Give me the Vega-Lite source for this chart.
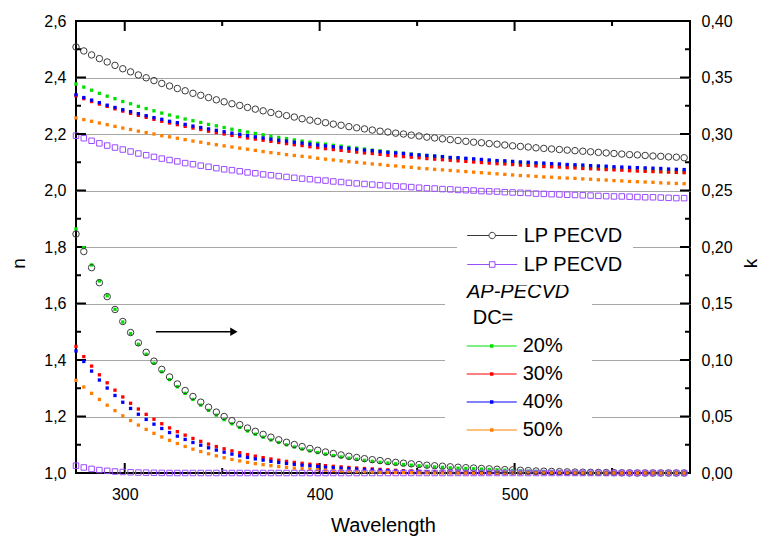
{
  "$schema": "https://vega.github.io/schema/vega-lite/v6.json",
  "width": 614,
  "height": 452,
  "autosize": {"type": "none"},
  "padding": {"left": 76, "top": 21, "right": 74, "bottom": 65},
  "background": "white",
  "config": {
    "view": {"stroke": "black", "strokeWidth": 2},
    "font": "Liberation Sans",
    "axis": {"domain": false, "grid": false, "ticks": false, "labelFont": "Liberation Sans", "labelFontSize": 16, "labelColor": "black", "titleFont": "Liberation Sans", "titleFontWeight": "normal", "titleColor": "black"},
    "legend": {"labelFont": "Liberation Sans", "titleFont": "Liberation Sans", "labelColor": "black", "titleColor": "black"}
  },
  "datasets": {
    "n": [
      {"w":275,"LP1":2.508,"LP2":2.194,"20%":2.377,"30%":2.335,"40%":2.339,"50%":2.257},
      {"w":279,"LP1":2.494,"LP2":2.185,"20%":2.366,"30%":2.325,"40%":2.329,"50%":2.251},
      {"w":283,"LP1":2.480,"LP2":2.176,"20%":2.355,"30%":2.315,"40%":2.320,"50%":2.245},
      {"w":287,"LP1":2.467,"LP2":2.167,"20%":2.344,"30%":2.306,"40%":2.311,"50%":2.239},
      {"w":291,"LP1":2.455,"LP2":2.159,"20%":2.334,"30%":2.298,"40%":2.302,"50%":2.233},
      {"w":295,"LP1":2.443,"LP2":2.152,"20%":2.325,"30%":2.289,"40%":2.294,"50%":2.227},
      {"w":299,"LP1":2.431,"LP2":2.145,"20%":2.315,"30%":2.281,"40%":2.286,"50%":2.221},
      {"w":303,"LP1":2.420,"LP2":2.138,"20%":2.307,"30%":2.273,"40%":2.279,"50%":2.216},
      {"w":307,"LP1":2.409,"LP2":2.131,"20%":2.298,"30%":2.266,"40%":2.272,"50%":2.210},
      {"w":311,"LP1":2.399,"LP2":2.125,"20%":2.290,"30%":2.259,"40%":2.265,"50%":2.205},
      {"w":315,"LP1":2.389,"LP2":2.119,"20%":2.282,"30%":2.252,"40%":2.258,"50%":2.200},
      {"w":319,"LP1":2.379,"LP2":2.113,"20%":2.274,"30%":2.245,"40%":2.252,"50%":2.194},
      {"w":323,"LP1":2.370,"LP2":2.108,"20%":2.267,"30%":2.239,"40%":2.245,"50%":2.190},
      {"w":327,"LP1":2.361,"LP2":2.103,"20%":2.260,"30%":2.233,"40%":2.240,"50%":2.185},
      {"w":331,"LP1":2.353,"LP2":2.097,"20%":2.253,"30%":2.227,"40%":2.234,"50%":2.180},
      {"w":335,"LP1":2.344,"LP2":2.093,"20%":2.247,"30%":2.221,"40%":2.228,"50%":2.175},
      {"w":339,"LP1":2.337,"LP2":2.088,"20%":2.241,"30%":2.216,"40%":2.223,"50%":2.171},
      {"w":343,"LP1":2.329,"LP2":2.084,"20%":2.234,"30%":2.210,"40%":2.218,"50%":2.166},
      {"w":347,"LP1":2.321,"LP2":2.079,"20%":2.229,"30%":2.205,"40%":2.213,"50%":2.162},
      {"w":351,"LP1":2.314,"LP2":2.075,"20%":2.223,"30%":2.200,"40%":2.208,"50%":2.158},
      {"w":355,"LP1":2.307,"LP2":2.072,"20%":2.217,"30%":2.195,"40%":2.203,"50%":2.154},
      {"w":359,"LP1":2.301,"LP2":2.068,"20%":2.212,"30%":2.191,"40%":2.199,"50%":2.150},
      {"w":363,"LP1":2.294,"LP2":2.064,"20%":2.207,"30%":2.186,"40%":2.194,"50%":2.146},
      {"w":367,"LP1":2.288,"LP2":2.061,"20%":2.202,"30%":2.182,"40%":2.190,"50%":2.142},
      {"w":371,"LP1":2.282,"LP2":2.057,"20%":2.197,"30%":2.178,"40%":2.186,"50%":2.138},
      {"w":375,"LP1":2.276,"LP2":2.054,"20%":2.192,"30%":2.174,"40%":2.182,"50%":2.134},
      {"w":379,"LP1":2.270,"LP2":2.051,"20%":2.188,"30%":2.170,"40%":2.178,"50%":2.131},
      {"w":383,"LP1":2.265,"LP2":2.048,"20%":2.184,"30%":2.166,"40%":2.175,"50%":2.127},
      {"w":387,"LP1":2.260,"LP2":2.045,"20%":2.179,"30%":2.162,"40%":2.171,"50%":2.124},
      {"w":391,"LP1":2.254,"LP2":2.042,"20%":2.175,"30%":2.159,"40%":2.168,"50%":2.121},
      {"w":395,"LP1":2.249,"LP2":2.040,"20%":2.171,"30%":2.155,"40%":2.164,"50%":2.118},
      {"w":399,"LP1":2.245,"LP2":2.037,"20%":2.167,"30%":2.152,"40%":2.161,"50%":2.114},
      {"w":403,"LP1":2.240,"LP2":2.035,"20%":2.164,"30%":2.148,"40%":2.158,"50%":2.111},
      {"w":407,"LP1":2.235,"LP2":2.032,"20%":2.160,"30%":2.145,"40%":2.155,"50%":2.108},
      {"w":411,"LP1":2.231,"LP2":2.030,"20%":2.157,"30%":2.142,"40%":2.152,"50%":2.105},
      {"w":415,"LP1":2.226,"LP2":2.027,"20%":2.153,"30%":2.139,"40%":2.149,"50%":2.102},
      {"w":419,"LP1":2.222,"LP2":2.025,"20%":2.150,"30%":2.136,"40%":2.146,"50%":2.100},
      {"w":423,"LP1":2.218,"LP2":2.023,"20%":2.147,"30%":2.133,"40%":2.143,"50%":2.097},
      {"w":427,"LP1":2.214,"LP2":2.021,"20%":2.143,"30%":2.131,"40%":2.141,"50%":2.094},
      {"w":431,"LP1":2.210,"LP2":2.019,"20%":2.140,"30%":2.128,"40%":2.138,"50%":2.092},
      {"w":435,"LP1":2.207,"LP2":2.017,"20%":2.137,"30%":2.125,"40%":2.135,"50%":2.089},
      {"w":439,"LP1":2.203,"LP2":2.015,"20%":2.135,"30%":2.123,"40%":2.133,"50%":2.087},
      {"w":443,"LP1":2.200,"LP2":2.014,"20%":2.132,"30%":2.120,"40%":2.131,"50%":2.084},
      {"w":447,"LP1":2.196,"LP2":2.012,"20%":2.129,"30%":2.118,"40%":2.128,"50%":2.082},
      {"w":451,"LP1":2.193,"LP2":2.010,"20%":2.126,"30%":2.116,"40%":2.126,"50%":2.079},
      {"w":455,"LP1":2.189,"LP2":2.008,"20%":2.124,"30%":2.113,"40%":2.124,"50%":2.077},
      {"w":459,"LP1":2.186,"LP2":2.007,"20%":2.121,"30%":2.111,"40%":2.122,"50%":2.075},
      {"w":463,"LP1":2.183,"LP2":2.005,"20%":2.119,"30%":2.109,"40%":2.120,"50%":2.073},
      {"w":467,"LP1":2.180,"LP2":2.004,"20%":2.116,"30%":2.107,"40%":2.117,"50%":2.071},
      {"w":471,"LP1":2.177,"LP2":2.002,"20%":2.114,"30%":2.105,"40%":2.116,"50%":2.069},
      {"w":475,"LP1":2.174,"LP2":2.001,"20%":2.112,"30%":2.103,"40%":2.114,"50%":2.067},
      {"w":479,"LP1":2.171,"LP2":2.000,"20%":2.110,"30%":2.101,"40%":2.112,"50%":2.065},
      {"w":483,"LP1":2.169,"LP2":1.998,"20%":2.107,"30%":2.099,"40%":2.110,"50%":2.063},
      {"w":487,"LP1":2.166,"LP2":1.997,"20%":2.105,"30%":2.097,"40%":2.108,"50%":2.061},
      {"w":491,"LP1":2.164,"LP2":1.996,"20%":2.103,"30%":2.095,"40%":2.106,"50%":2.059},
      {"w":495,"LP1":2.161,"LP2":1.994,"20%":2.101,"30%":2.094,"40%":2.105,"50%":2.057},
      {"w":499,"LP1":2.158,"LP2":1.993,"20%":2.099,"30%":2.092,"40%":2.103,"50%":2.055},
      {"w":503,"LP1":2.156,"LP2":1.992,"20%":2.097,"30%":2.090,"40%":2.101,"50%":2.053},
      {"w":507,"LP1":2.154,"LP2":1.991,"20%":2.095,"30%":2.089,"40%":2.100,"50%":2.052},
      {"w":511,"LP1":2.151,"LP2":1.989,"20%":2.094,"30%":2.087,"40%":2.098,"50%":2.050},
      {"w":515,"LP1":2.149,"LP2":1.988,"20%":2.092,"30%":2.085,"40%":2.097,"50%":2.048},
      {"w":519,"LP1":2.147,"LP2":1.987,"20%":2.090,"30%":2.084,"40%":2.095,"50%":2.047},
      {"w":523,"LP1":2.145,"LP2":1.986,"20%":2.088,"30%":2.083,"40%":2.094,"50%":2.045},
      {"w":527,"LP1":2.143,"LP2":1.985,"20%":2.087,"30%":2.081,"40%":2.092,"50%":2.044},
      {"w":531,"LP1":2.141,"LP2":1.984,"20%":2.085,"30%":2.080,"40%":2.091,"50%":2.043},
      {"w":535,"LP1":2.139,"LP2":1.983,"20%":2.083,"30%":2.078,"40%":2.090,"50%":2.041},
      {"w":539,"LP1":2.137,"LP2":1.982,"20%":2.082,"30%":2.077,"40%":2.088,"50%":2.040},
      {"w":543,"LP1":2.135,"LP2":1.981,"20%":2.080,"30%":2.076,"40%":2.087,"50%":2.038},
      {"w":547,"LP1":2.133,"LP2":1.980,"20%":2.079,"30%":2.074,"40%":2.086,"50%":2.037},
      {"w":551,"LP1":2.131,"LP2":1.979,"20%":2.077,"30%":2.073,"40%":2.084,"50%":2.035},
      {"w":555,"LP1":2.129,"LP2":1.979,"20%":2.076,"30%":2.072,"40%":2.083,"50%":2.034},
      {"w":559,"LP1":2.127,"LP2":1.978,"20%":2.075,"30%":2.070,"40%":2.082,"50%":2.032},
      {"w":563,"LP1":2.126,"LP2":1.977,"20%":2.073,"30%":2.069,"40%":2.081,"50%":2.031},
      {"w":567,"LP1":2.124,"LP2":1.976,"20%":2.072,"30%":2.068,"40%":2.080,"50%":2.030},
      {"w":571,"LP1":2.122,"LP2":1.976,"20%":2.071,"30%":2.067,"40%":2.079,"50%":2.029},
      {"w":575,"LP1":2.121,"LP2":1.975,"20%":2.069,"30%":2.066,"40%":2.078,"50%":2.027},
      {"w":579,"LP1":2.119,"LP2":1.974,"20%":2.068,"30%":2.065,"40%":2.076,"50%":2.026},
      {"w":583,"LP1":2.118,"LP2":1.973,"20%":2.066,"30%":2.064,"40%":2.075,"50%":2.025},
      {"w":587,"LP1":2.116,"LP2":1.973,"20%":2.066,"30%":2.063,"40%":2.074,"50%":2.024}
    ],
    "k": [
      {"w":275,"LP1":0.2115,"LP2":0.0065,"20%":0.2160,"30%":0.1120,"40%":0.1080,"50%":0.0820},
      {"w":279,"LP1":0.1960,"LP2":0.0049,"20%":0.1994,"30%":0.1030,"40%":0.0987,"50%":0.0761},
      {"w":283,"LP1":0.1817,"LP2":0.0036,"20%":0.1841,"30%":0.0946,"40%":0.0902,"50%":0.0705},
      {"w":287,"LP1":0.1684,"LP2":0.0026,"20%":0.1699,"30%":0.0869,"40%":0.0823,"50%":0.0651},
      {"w":291,"LP1":0.1561,"LP2":0.0019,"20%":0.1568,"30%":0.0798,"40%":0.0752,"50%":0.0600},
      {"w":295,"LP1":0.1447,"LP2":0.0013,"20%":0.1448,"30%":0.0733,"40%":0.0686,"50%":0.0552},
      {"w":299,"LP1":0.1341,"LP2":0.0009,"20%":0.1336,"30%":0.0673,"40%":0.0626,"50%":0.0506},
      {"w":303,"LP1":0.1243,"LP2":0.0006,"20%":0.1234,"30%":0.0617,"40%":0.0571,"50%":0.0464},
      {"w":307,"LP1":0.1152,"LP2":0.0004,"20%":0.1139,"30%":0.0566,"40%":0.0520,"50%":0.0424},
      {"w":311,"LP1":0.1068,"LP2":0.0003,"20%":0.1051,"30%":0.0519,"40%":0.0474,"50%":0.0386},
      {"w":315,"LP1":0.0990,"LP2":0.0002,"20%":0.0971,"30%":0.0476,"40%":0.0432,"50%":0.0351},
      {"w":319,"LP1":0.0917,"LP2":0.0001,"20%":0.0896,"30%":0.0436,"40%":0.0394,"50%":0.0319},
      {"w":323,"LP1":0.0850,"LP2":0,"20%":0.0827,"30%":0.0399,"40%":0.0358,"50%":0.0289},
      {"w":327,"LP1":0.0788,"LP2":0,"20%":0.0763,"30%":0.0366,"40%":0.0326,"50%":0.0261},
      {"w":331,"LP1":0.0730,"LP2":0,"20%":0.0705,"30%":0.0335,"40%":0.0297,"50%":0.0235},
      {"w":335,"LP1":0.0677,"LP2":0,"20%":0.0651,"30%":0.0306,"40%":0.0270,"50%":0.0211},
      {"w":339,"LP1":0.0627,"LP2":0,"20%":0.0601,"30%":0.0280,"40%":0.0246,"50%":0.0190},
      {"w":343,"LP1":0.0582,"LP2":0,"20%":0.0554,"30%":0.0256,"40%":0.0223,"50%":0.0170},
      {"w":347,"LP1":0.0539,"LP2":0,"20%":0.0512,"30%":0.0234,"40%":0.0203,"50%":0.0152},
      {"w":351,"LP1":0.0500,"LP2":0,"20%":0.0472,"30%":0.0214,"40%":0.0184,"50%":0.0135},
      {"w":355,"LP1":0.0463,"LP2":0,"20%":0.0436,"30%":0.0196,"40%":0.0167,"50%":0.0120},
      {"w":359,"LP1":0.0429,"LP2":0,"20%":0.0403,"30%":0.0179,"40%":0.0152,"50%":0.0107},
      {"w":363,"LP1":0.0398,"LP2":0,"20%":0.0372,"30%":0.0163,"40%":0.0138,"50%":0.0094},
      {"w":367,"LP1":0.0369,"LP2":0,"20%":0.0343,"30%":0.0149,"40%":0.0125,"50%":0.0083},
      {"w":371,"LP1":0.0342,"LP2":0,"20%":0.0317,"30%":0.0136,"40%":0.0114,"50%":0.0074},
      {"w":375,"LP1":0.0317,"LP2":0,"20%":0.0292,"30%":0.0124,"40%":0.0103,"50%":0.0065},
      {"w":379,"LP1":0.0294,"LP2":0,"20%":0.0270,"30%":0.0113,"40%":0.0093,"50%":0.0057},
      {"w":383,"LP1":0.0272,"LP2":0,"20%":0.0249,"30%":0.0103,"40%":0.0085,"50%":0.0050},
      {"w":387,"LP1":0.0252,"LP2":0,"20%":0.0230,"30%":0.0094,"40%":0.0077,"50%":0.0043},
      {"w":391,"LP1":0.0234,"LP2":0,"20%":0.0212,"30%":0.0086,"40%":0.0069,"50%":0.0038},
      {"w":395,"LP1":0.0217,"LP2":0,"20%":0.0196,"30%":0.0078,"40%":0.0063,"50%":0.0033},
      {"w":399,"LP1":0.0201,"LP2":0,"20%":0.0181,"30%":0.0071,"40%":0.0057,"50%":0.0029},
      {"w":403,"LP1":0.0186,"LP2":0,"20%":0.0167,"30%":0.0065,"40%":0.0051,"50%":0.0025},
      {"w":407,"LP1":0.0173,"LP2":0,"20%":0.0154,"30%":0.0059,"40%":0.0047,"50%":0.0021},
      {"w":411,"LP1":0.0160,"LP2":0,"20%":0.0142,"30%":0.0054,"40%":0.0042,"50%":0.0018},
      {"w":415,"LP1":0.0148,"LP2":0,"20%":0.0131,"30%":0.0049,"40%":0.0038,"50%":0.0016},
      {"w":419,"LP1":0.0137,"LP2":0,"20%":0.0121,"30%":0.0044,"40%":0.0034,"50%":0.0013},
      {"w":423,"LP1":0.0127,"LP2":0,"20%":0.0112,"30%":0.0040,"40%":0.0030,"50%":0.0011},
      {"w":427,"LP1":0.0118,"LP2":0,"20%":0.0103,"30%":0.0036,"40%":0.0027,"50%":0.0009},
      {"w":431,"LP1":0.0110,"LP2":0,"20%":0.0095,"30%":0.0032,"40%":0.0024,"50%":0.0007},
      {"w":435,"LP1":0.0101,"LP2":0,"20%":0.0088,"30%":0.0028,"40%":0.0021,"50%":0.0006},
      {"w":439,"LP1":0.0094,"LP2":0,"20%":0.0081,"30%":0.0024,"40%":0.0018,"50%":0.0005},
      {"w":443,"LP1":0.0087,"LP2":0,"20%":0.0075,"30%":0.0021,"40%":0.0015,"50%":0.0004},
      {"w":447,"LP1":0.0081,"LP2":0,"20%":0.0069,"30%":0.0018,"40%":0.0013,"50%":0.0003},
      {"w":451,"LP1":0.0075,"LP2":0,"20%":0.0064,"30%":0.0015,"40%":0.0011,"50%":0.0002},
      {"w":455,"LP1":0.0069,"LP2":0,"20%":0.0059,"30%":0.0012,"40%":0.0009,"50%":0.0001},
      {"w":459,"LP1":0.0064,"LP2":0,"20%":0.0054,"30%":0.0010,"40%":0.0007,"50%":0},
      {"w":463,"LP1":0.0060,"LP2":0,"20%":0.0050,"30%":0.0008,"40%":0.0006,"50%":0},
      {"w":467,"LP1":0.0055,"LP2":0,"20%":0.0046,"30%":0.0006,"40%":0.0004,"50%":0},
      {"w":471,"LP1":0.0051,"LP2":0,"20%":0.0043,"30%":0.0005,"40%":0.0003,"50%":0},
      {"w":475,"LP1":0.0047,"LP2":0,"20%":0.0040,"30%":0.0004,"40%":0.0002,"50%":0},
      {"w":479,"LP1":0.0044,"LP2":0,"20%":0.0037,"30%":0.0003,"40%":0.0001,"50%":0},
      {"w":483,"LP1":0.0040,"LP2":0,"20%":0.0034,"30%":0.0002,"40%":0,"50%":0},
      {"w":487,"LP1":0.0037,"LP2":0,"20%":0.0031,"30%":0.0001,"40%":0,"50%":0},
      {"w":491,"LP1":0.0033,"LP2":0,"20%":0.0028,"30%":0,"40%":0,"50%":0},
      {"w":495,"LP1":0.0030,"LP2":0,"20%":0.0025,"30%":0,"40%":0,"50%":0},
      {"w":499,"LP1":0.0027,"LP2":0,"20%":0.0022,"30%":0,"40%":0,"50%":0},
      {"w":503,"LP1":0.0024,"LP2":0,"20%":0.0019,"30%":0,"40%":0,"50%":0},
      {"w":507,"LP1":0.0021,"LP2":0,"20%":0.0016,"30%":0,"40%":0,"50%":0},
      {"w":511,"LP1":0.0018,"LP2":0,"20%":0.0014,"30%":0,"40%":0,"50%":0},
      {"w":515,"LP1":0.0016,"LP2":0,"20%":0.0012,"30%":0,"40%":0,"50%":0},
      {"w":519,"LP1":0.0014,"LP2":0,"20%":0.0010,"30%":0,"40%":0,"50%":0},
      {"w":523,"LP1":0.0012,"LP2":0,"20%":0.0008,"30%":0,"40%":0,"50%":0},
      {"w":527,"LP1":0.0010,"LP2":0,"20%":0.0007,"30%":0,"40%":0,"50%":0},
      {"w":531,"LP1":0.0008,"LP2":0,"20%":0.0005,"30%":0,"40%":0,"50%":0},
      {"w":535,"LP1":0.0007,"LP2":0,"20%":0.0004,"30%":0,"40%":0,"50%":0},
      {"w":539,"LP1":0.0006,"LP2":0,"20%":0.0003,"30%":0,"40%":0,"50%":0},
      {"w":543,"LP1":0.0005,"LP2":0,"20%":0.0002,"30%":0,"40%":0,"50%":0},
      {"w":547,"LP1":0.0004,"LP2":0,"20%":0.0001,"30%":0,"40%":0,"50%":0},
      {"w":551,"LP1":0.0003,"LP2":0,"20%":0,"30%":0,"40%":0,"50%":0},
      {"w":555,"LP1":0.0002,"LP2":0,"20%":0,"30%":0,"40%":0,"50%":0},
      {"w":559,"LP1":0.0001,"LP2":0,"20%":0,"30%":0,"40%":0,"50%":0},
      {"w":563,"LP1":0,"LP2":0,"20%":0,"30%":0,"40%":0,"50%":0},
      {"w":567,"LP1":0,"LP2":0,"20%":0,"30%":0,"40%":0,"50%":0},
      {"w":571,"LP1":0,"LP2":0,"20%":0,"30%":0,"40%":0,"50%":0},
      {"w":575,"LP1":0,"LP2":0,"20%":0,"30%":0,"40%":0,"50%":0},
      {"w":579,"LP1":0,"LP2":0,"20%":0,"30%":0,"40%":0,"50%":0},
      {"w":583,"LP1":0,"LP2":0,"20%":0,"30%":0,"40%":0,"50%":0},
      {"w":587,"LP1":0,"LP2":0,"20%":0,"30%":0,"40%":0,"50%":0}
    ],
    "arrow": [{"x1": 316, "x2": 356, "y": 1.5}],
    "xMajor": [{"w": 300}, {"w": 400}, {"w": 500}],
    "xMinor": [{"w": 350}, {"w": 450}, {"w": 550}],
    "nMajor": [{"n": 1.2}, {"n": 1.4}, {"n": 1.6}, {"n": 1.8}, {"n": 2.0}, {"n": 2.2}, {"n": 2.4}],
    "nMinor": [{"n": 1.1}, {"n": 1.3}, {"n": 1.5}, {"n": 1.7}, {"n": 1.9}, {"n": 2.1}, {"n": 2.3}, {"n": 2.5}],
    "kMajor": [{"k": 0.05}, {"k": 0.1}, {"k": 0.15}, {"k": 0.2}, {"k": 0.25}, {"k": 0.3}, {"k": 0.35}],
    "kMinor": [{"k": 0.025}, {"k": 0.075}, {"k": 0.125}, {"k": 0.175}, {"k": 0.225}, {"k": 0.275}, {"k": 0.325}, {"k": 0.375}]
  },
  "layer": [
    {
      "data": {"name": "n"},
      "mark": {"type": "point", "opacity": 0},
      "encoding": {
        "x": {"field": "w", "type": "quantitative", "scale": {"domain": [275, 590], "nice": false, "zero": false}, "axis": null},
        "y": {"field": "LP1", "type": "quantitative", "scale": {"domain": [1, 2.6], "nice": false, "zero": false},
          "axis": {"orient": "left", "title": null, "labels": false, "ticks": false, "grid": true, "gridColor": "#a6a6a6", "gridWidth": 1,
            "values": [1.2, 1.4, 1.6, 1.8, 2.0, 2.2, 2.4]}}
      }
    },
    {
      "layer": [
        {
          "data": {"name": "n"},
          "transform": [{"fold": ["20%", "30%", "40%", "50%"], "as": ["s", "v"]}],
          "mark": {"type": "point", "shape": "square", "filled": true, "size": 11, "opacity": 1},
          "encoding": {
            "x": {"field": "w", "type": "quantitative",
              "axis": {"orient": "bottom", "title": "Wavelength", "titleFontSize": 20, "titleX": 307, "titleY": 52, "titleBaseline": "middle", "titleAlign": "center",
                "values": [300, 400, 500], "format": "d", "labelPadding": 13}},
            "y": {"field": "v", "type": "quantitative", "scale": {"domain": [1, 2.6], "nice": false, "zero": false},
              "axis": {"orient": "left", "title": "n", "titleFontSize": 19, "titleX": -58, "titleY": 242, "titleBaseline": "middle", "titleAlign": "center", "titleAngle": -90,
                "values": [1.0, 1.2, 1.4, 1.6, 1.8, 2.0, 2.2, 2.4, 2.6],
                "labelExpr": "replace(format(datum.value, '.1f'), '.', ',')",
                "labelPadding": 10}},
            "color": {"field": "s", "type": "nominal",
              "scale": {"domain": ["DC=", "20%", "30%", "40%", "50%"], "range": ["transparent", "#00e000", "#ff0000", "#0000ff", "#ff8000"]},
              "legend": {"orient": "none", "legendX": 369, "legendY": 239, "padding": 22, "fillColor": "white", "zindex": 1,
                "title": "AP-PECVD", "titleFontStyle": "italic", "titleFontSize": 20, "titleFontWeight": "normal", "titlePadding": 6,
                "labelFontSize": 20, "symbolSize": 400, "symbolStrokeWidth": 0, "symbolOffset": 14.7, "labelOffset": 21, "rowPadding": 8,
                "symbolType": "M-2.5,-0.06H2.5V0.06H-2.5ZM-0.17,-0.17H0.17V0.17H-0.17Z",
                "labelExpr": "datum.label + '\u00a0\u00a0\u00a0\u00a0\u00a0\u00a0\u00a0\u00a0\u00a0\u00a0\u00a0\u00a0\u00a0\u00a0\u00a0\u00a0\u00a0\u00a0\u00a0\u00a0\u00a0'",
                "encoding": {"labels": {"dx": {"condition": {"test": "datum.value === 'DC='", "value": -50}, "value": 0}}}}}
          }
        },
        {
          "data": {"name": "n"},
          "transform": [{"fold": ["LP1"], "as": ["s", "v"]}],
          "mark": {"type": "point", "shape": "circle", "filled": false, "size": 42, "strokeWidth": 1, "opacity": 1},
          "encoding": {
            "x": {"field": "w", "type": "quantitative"},
            "y": {"field": "v", "type": "quantitative"},
            "stroke": {"field": "s", "type": "nominal",
              "scale": {"domain": ["LP1", "LP2"], "range": ["#3a3a3a", "#9a4cff"]},
              "legend": {"orient": "none", "legendX": 381, "legendY": 194, "padding": 10, "fillColor": "white", "zindex": 1,
                "title": null, "labelFontSize": 20, "symbolSize": 400, "symbolStrokeWidth": 1, "symbolOffset": 14.7, "labelOffset": 21, "rowPadding": 8,
                "symbolFillColor": "white",
                "symbolType": "M-2.5,0H-0.32M0.32,0H2.5M-0.32,0A0.32,0.32,0,1,0,0.32,0A0.32,0.32,0,1,0,-0.32,0Z",
                "labelExpr": "'LP PECVD\u00a0\u00a0\u00a0\u00a0\u00a0\u00a0\u00a0\u00a0\u00a0\u00a0'",
                "encoding": {"symbols": {"fill": {"value": "white"}, "shape": {"condition": {"test": "datum.value === 'LP2'", "value": "M-2.5,0H-0.28M0.28,0H2.5M-0.28,-0.28H0.28V0.28H-0.28Z"}, "value": "M-2.5,0H-0.32M0.32,0H2.5M-0.32,0A0.32,0.32,0,1,0,0.32,0A0.32,0.32,0,1,0,-0.32,0Z"}}}}
            }
          }
        },
        {
          "data": {"name": "n"},
          "transform": [{"fold": ["LP2"], "as": ["s", "v"]}],
          "mark": {"type": "point", "shape": "square", "filled": false, "size": 30, "strokeWidth": 1, "opacity": 1},
          "encoding": {
            "x": {"field": "w", "type": "quantitative"},
            "y": {"field": "v", "type": "quantitative"},
            "stroke": {"field": "s", "type": "nominal"}
          }
        },
        {
          "data": {"name": "arrow"},
          "mark": {"type": "rule", "color": "black", "strokeWidth": 1.5},
          "encoding": {
            "x": {"field": "x1", "type": "quantitative"},
            "x2": {"field": "x2"},
            "y": {"field": "y", "type": "quantitative"}
          }
        },
        {
          "data": {"name": "arrow"},
          "mark": {"type": "point", "shape": "triangle-right", "filled": true, "color": "black", "size": 70, "opacity": 1},
          "encoding": {
            "x": {"field": "x2", "type": "quantitative"},
            "y": {"field": "y", "type": "quantitative"}
          }
        },
        {
          "data": {"name": "xMajor"},
          "mark": {"type": "rule", "color": "black", "strokeWidth": 2},
          "encoding": {"x": {"field": "w", "type": "quantitative"}, "y": {"datum": 1.0}, "y2": {"datum": 1.0354}}
        },
        {
          "data": {"name": "xMajor"},
          "mark": {"type": "rule", "color": "black", "strokeWidth": 2},
          "encoding": {"x": {"field": "w", "type": "quantitative"}, "y": {"datum": 2.6}, "y2": {"datum": 2.5646}}
        },
        {
          "data": {"name": "xMinor"},
          "mark": {"type": "rule", "color": "black", "strokeWidth": 2},
          "encoding": {"x": {"field": "w", "type": "quantitative"}, "y": {"datum": 1.0}, "y2": {"datum": 1.0177}}
        },
        {
          "data": {"name": "xMinor"},
          "mark": {"type": "rule", "color": "black", "strokeWidth": 2},
          "encoding": {"x": {"field": "w", "type": "quantitative"}, "y": {"datum": 2.6}, "y2": {"datum": 2.5823}}
        },
        {
          "data": {"name": "nMajor"},
          "mark": {"type": "rule", "color": "black", "strokeWidth": 2},
          "encoding": {"y": {"field": "n", "type": "quantitative"}, "x": {"datum": 275}, "x2": {"datum": 280.13}}
        },
        {
          "data": {"name": "nMinor"},
          "mark": {"type": "rule", "color": "black", "strokeWidth": 2},
          "encoding": {"y": {"field": "n", "type": "quantitative"}, "x": {"datum": 275}, "x2": {"datum": 277.57}}
        }
      ]
    },
    {
      "layer": [
        {
          "data": {"name": "k"},
          "transform": [{"fold": ["20%", "30%", "40%", "50%"], "as": ["s", "v"]}],
          "mark": {"type": "point", "shape": "square", "filled": true, "size": 11, "opacity": 1},
          "encoding": {
            "x": {"field": "w", "type": "quantitative", "axis": null},
            "y": {"field": "v", "type": "quantitative", "scale": {"domain": [0, 0.4], "nice": false, "zero": false},
              "axis": {"orient": "right", "title": "k", "titleFontSize": 19, "titleX": 60, "titleY": 242, "titleBaseline": "middle", "titleAlign": "center", "titleAngle": -90,
                "values": [0, 0.05, 0.1, 0.15, 0.2, 0.25, 0.3, 0.35, 0.4],
                "labelExpr": "replace(format(datum.value, '.2f'), '.', ',')",
                "labelPadding": 11}},
            "color": {"field": "s", "type": "nominal"}
          }
        },
        {
          "data": {"name": "k"},
          "transform": [{"fold": ["LP1"], "as": ["s", "v"]}],
          "mark": {"type": "point", "shape": "circle", "filled": false, "size": 42, "strokeWidth": 1, "opacity": 1},
          "encoding": {
            "x": {"field": "w", "type": "quantitative"},
            "y": {"field": "v", "type": "quantitative"},
            "stroke": {"field": "s", "type": "nominal"}
          }
        },
        {
          "data": {"name": "k"},
          "transform": [{"fold": ["LP2"], "as": ["s", "v"]}],
          "mark": {"type": "point", "shape": "square", "filled": false, "size": 30, "strokeWidth": 1, "opacity": 1},
          "encoding": {
            "x": {"field": "w", "type": "quantitative"},
            "y": {"field": "v", "type": "quantitative"},
            "stroke": {"field": "s", "type": "nominal"}
          }
        },
        {
          "data": {"name": "kMajor"},
          "mark": {"type": "rule", "color": "black", "strokeWidth": 2},
          "encoding": {"y": {"field": "k", "type": "quantitative"}, "x": {"datum": 590}, "x2": {"datum": 584.87}}
        },
        {
          "data": {"name": "kMinor"},
          "mark": {"type": "rule", "color": "black", "strokeWidth": 2},
          "encoding": {"y": {"field": "k", "type": "quantitative"}, "x": {"datum": 590}, "x2": {"datum": 587.43}}
        }
      ]
    }
  ],
  "resolve": {"scale": {"y": "independent"}, "axis": {"x": "independent", "y": "independent"}}
}
